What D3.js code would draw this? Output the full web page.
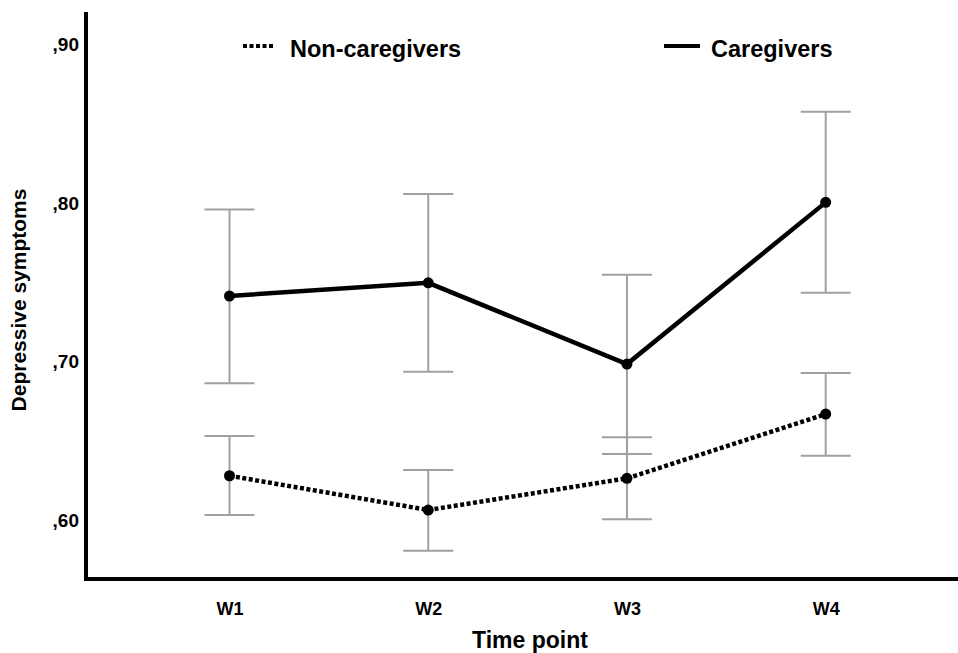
<!DOCTYPE html>
<html>
<head>
<meta charset="utf-8">
<script src="https://cdn.jsdelivr.net/npm/d3@7"></script>
<style>
  html, body { margin: 0; padding: 0; background: #fff; }
  svg { display: block; font-family: "Liberation Sans", Arial, Helvetica, sans-serif; }
</style>
</head>
<body>
<svg id="chart" width="958" height="653"></svg>
<script>
const categories = ["W1", "W2", "W3", "W4"];
const yTicks = [0.6, 0.7, 0.8, 0.9];
const caregiverMean = [0.7415, 0.7498, 0.6986, 0.8005];
const caregiverLow  = [0.6865, 0.6938, 0.6419, 0.7435];
const caregiverHigh = [0.7960, 0.8057, 0.7549, 0.8576];
const nonCaregiverMean = [0.6282, 0.6066, 0.6266, 0.6671];
const nonCaregiverLow  = [0.6035, 0.5810, 0.6008, 0.6408];
const nonCaregiverHigh = [0.6532, 0.6318, 0.6524, 0.6929];
const seriesNames = ["Non-caregivers", "Caregivers"];

const svg = d3.select("#chart");
const x = d3.scalePoint().domain(categories).range([229.5, 825.7]);
const y = d3.scaleLinear().domain([0.6, 0.9]).range([520.5, 44.5]);

const FONT = "Liberation Sans, Arial, sans-serif";

// Y tick labels
const yAxis = d3.axisLeft(y).tickValues(yTicks).tickSize(0).tickPadding(0)
  .tickFormat(d => "," + d3.format(".2f")(d).split(".")[1]);
const gy = svg.append("g").attr("transform", "translate(79,0)").call(yAxis)
  .attr("font-size", 19).attr("font-family", FONT);
gy.select(".domain").remove();
gy.selectAll("text").attr("font-weight", "bold").attr("fill", "#000");

// X tick labels
const xAxis = d3.axisBottom(x).tickSize(0).tickPadding(0);
const gx = svg.append("g").attr("transform", "translate(0,602)").call(xAxis)
  .attr("font-size", 18).attr("font-family", FONT);
gx.select(".domain").remove();
gx.selectAll("text").attr("font-weight", "bold").attr("fill", "#000");

// Axis lines
svg.append("line").attr("x1", 86).attr("x2", 958).attr("y1", 579).attr("y2", 579)
  .attr("stroke", "#000").attr("stroke-width", 4);
svg.append("line").attr("x1", 86).attr("x2", 86).attr("y1", 12).attr("y2", 581)
  .attr("stroke", "#000").attr("stroke-width", 4);

// Axis titles
svg.append("text").attr("x", 530).attr("y", 648).attr("text-anchor", "middle")
  .attr("font-size", 23).attr("font-weight", "bold").text("Time point");
svg.append("text").attr("transform", "translate(26,300) rotate(-90)").attr("text-anchor", "middle")
  .attr("font-size", 21).attr("font-weight", "bold").text("Depressive symptoms");

function errorBars(lows, highs) {
  const g = svg.append("g").attr("stroke", "#a0a0a0").attr("stroke-width", 2).attr("fill", "none");
  categories.forEach((c, i) => {
    const cx = x(c);
    g.append("line").attr("x1", cx).attr("x2", cx).attr("y1", y(lows[i])).attr("y2", y(highs[i]));
    g.append("line").attr("x1", cx - 25).attr("x2", cx + 25).attr("y1", y(lows[i])).attr("y2", y(lows[i]));
    g.append("line").attr("x1", cx - 25).attr("x2", cx + 25).attr("y1", y(highs[i])).attr("y2", y(highs[i]));
  });
}
errorBars(caregiverLow, caregiverHigh);
errorBars(nonCaregiverLow, nonCaregiverHigh);

const line = d3.line().x((d, i) => x(categories[i])).y(d => y(d));
svg.append("path").datum(nonCaregiverMean).attr("d", line).attr("fill", "none")
  .attr("stroke", "#000").attr("stroke-width", 4.5).attr("stroke-dasharray", "4,2.5");
svg.append("path").datum(caregiverMean).attr("d", line).attr("fill", "none")
  .attr("stroke", "#000").attr("stroke-width", 4.5);

[caregiverMean, nonCaregiverMean].forEach(arr => {
  svg.append("g").selectAll("circle").data(arr).join("circle")
    .attr("cx", (d, i) => x(categories[i])).attr("cy", d => y(d)).attr("r", 5.5).attr("fill", "#000");
});

// Legend
const legend = svg.append("g");
legend.append("line").attr("x1", 243).attr("x2", 274).attr("y1", 46).attr("y2", 46)
  .attr("stroke", "#000").attr("stroke-width", 4).attr("stroke-dasharray", "4,2.5");
legend.append("text").attr("x", 290).attr("y", 57).attr("font-size", 23.5).attr("font-weight", "bold")
  .text(seriesNames[0]);
legend.append("line").attr("x1", 664).attr("x2", 700).attr("y1", 46).attr("y2", 46)
  .attr("stroke", "#000").attr("stroke-width", 4);
legend.append("text").attr("x", 711).attr("y", 57).attr("font-size", 23.5).attr("font-weight", "bold")
  .text(seriesNames[1]);
</script>
</body>
</html>
